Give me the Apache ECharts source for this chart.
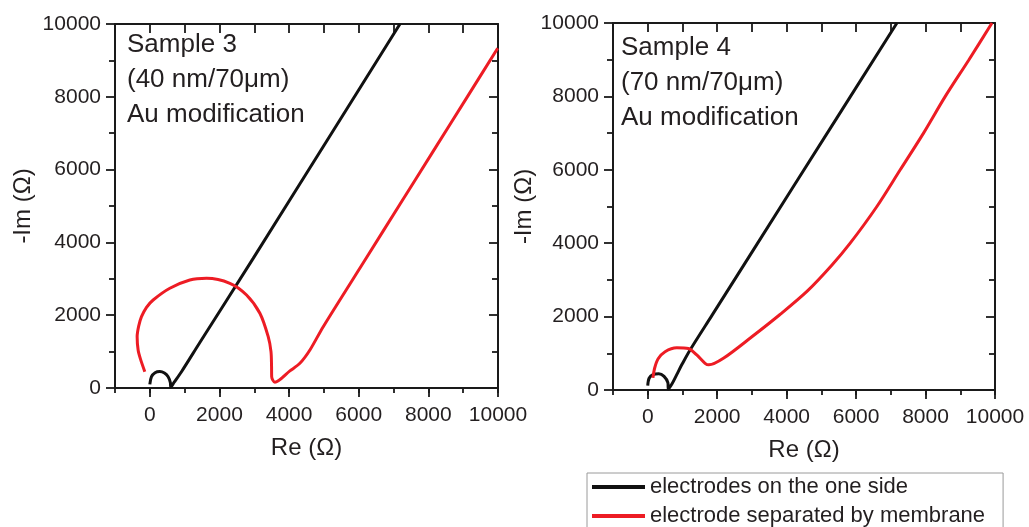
<!DOCTYPE html>
<html><head><meta charset="utf-8">
<script src="https://cdn.jsdelivr.net/npm/echarts@6/dist/echarts.min.js"></script>
<style>html,body{margin:0;padding:0;background:#fff}#c{width:1029px;height:527px}</style>
</head><body><div id="c"></div><script>
// Sample 3 (40 nm/70 µm), [Re, -Im] in ohm
const s3Black = [[0,100],[48,310],[150,420],[287,450],[420,410],[526,310],[590,150],[603,30],[700,160],[910,448],[1437,1250],[2969,3562],[5077,6781],[7184,10000]];
const s3Red = [[-144,448],[-270,800],[-336,1044],[-364,1410],[-320,1700],[-239,1959],[-95,2217],[96,2418],[575,2739],[1149,2967],[1628,3013],[2299,2876],[2778,2555],[3161,2052],[3400,1410],[3480,1000],[3496,600],[3500,310],[3592,160],[4023,470],[4310,678],[4598,1044],[4981,1685],[6226,3585],[7184,5047],[8141,6508],[9100,7971],[9991,9332]];
// Sample 4 (70 nm/70 µm)
const s4Black = [[0,120],[40,320],[150,420],[320,445],[470,370],[580,200],[594,30],[700,170],[836,420],[1000,720],[1219,1090],[1850,2034],[4200,5550],[7176,10000]];
const s4Red = [[150,330],[200,600],[300,850],[499,1044],[836,1150],[1170,1130],[1412,954],[1651,727],[1760,685],[2179,863],[3000,1450],[3800,2050],[4600,2700],[5300,3400],[5830,4000],[6599,5000],[7271,6000],[7942,7000],[8568,8000],[9250,9000],[9913,10000]];

const xMajor = [0,2000,4000,6000,8000,10000];
const seriesNames = ['electrodes on the one side','electrode separated by membrane'];
const panelLabels = ['Sample 3\n(40 nm/70\u03bcm)\nAu modification','Sample 4\n(70 nm/70\u03bcm)\nAu modification'];
const xName = 'Re (\u03a9)';
const yName = '-Im (\u03a9)';

const FONT = 'Liberation Sans, Arial, sans-serif';
const TXT = '#231f20';
const AX = '#1a1a1a';
const BLACK = '#111111';
const RED = '#ed1c24';
const plain = v => String(v);

const grids = [
  {left:115, top:24, width:383, height:364},
  {left:115, top:24, width:383, height:364},
  {left:613, top:23, width:382, height:367},
  {left:613, top:23, width:382, height:367}
];

function mainX(gi){
  return {gridIndex:gi, type:'value', position:'bottom', min:-1000, max:10000,
    axisLine:{show:true, onZero:false, lineStyle:{color:AX, width:2}},
    axisTick:{show:true, customValues:xMajor, length:9, lineStyle:{color:AX, width:1.8}},
    axisLabel:{show:true, customValues:xMajor, formatter:plain, fontSize:21, margin:17, color:TXT, fontFamily:FONT},
    splitLine:{show:false},
    name:xName, nameLocation:'middle', nameGap:48, nameTextStyle:{fontSize:24, color:TXT, fontFamily:FONT}};
}
function topX(gi){
  return {gridIndex:gi, type:'value', position:'top', min:-1000, max:10000, interval:1000,
    axisLine:{show:true, onZero:false, lineStyle:{color:AX, width:2}},
    axisTick:{show:true, inside:true, length:9, lineStyle:{color:AX, width:1.8}},
    axisLabel:{show:false}, splitLine:{show:false}};
}
function minorX(gi){
  return {gridIndex:gi, type:'value', position:'bottom', min:-1000, max:10000, interval:1000,
    axisLine:{show:false, onZero:false},
    axisTick:{show:true, length:5, lineStyle:{color:AX, width:1.8}},
    axisLabel:{show:false}, splitLine:{show:false}};
}
function leftY(gi, gap){
  return {gridIndex:gi, type:'value', position:'left', min:0, max:10000, interval:2000,
    axisLine:{show:true, onZero:false, lineStyle:{color:AX, width:2}},
    axisTick:{show:true, length:9, lineStyle:{color:AX, width:1.8}},
    minorTick:{show:true, splitNumber:2, length:6, lineStyle:{color:AX, width:1.8}},
    axisLabel:{formatter:plain, fontSize:21, margin:14, color:TXT, fontFamily:FONT},
    splitLine:{show:false}, minorSplitLine:{show:false},
    name:yName, nameLocation:'middle', nameGap:gap, nameTextStyle:{fontSize:24, color:TXT, fontFamily:FONT}};
}
function rightY(gi){
  return {gridIndex:gi, type:'value', position:'right', min:0, max:10000, interval:2000,
    axisLine:{show:true, onZero:false, lineStyle:{color:AX, width:2}},
    axisTick:{show:true, inside:true, length:9, lineStyle:{color:AX, width:1.8}},
    minorTick:{show:true, splitNumber:2, length:6, lineStyle:{color:AX, width:1.8}},
    axisLabel:{show:false}, splitLine:{show:false}, minorSplitLine:{show:false}};
}
function hiddenY(gi){
  return {gridIndex:gi, type:'value', min:0, max:10000, show:false, splitLine:{show:false}};
}

const xAxis = [mainX(0), topX(0), minorX(1), mainX(2), topX(2), minorX(3)];
const yAxis = [leftY(0, 80), rightY(0), hiddenY(1), leftY(2, 52), rightY(2), hiddenY(3)];

function line(name, data, color, xi, yi){
  return {type:'line', name:name, data:data, xAxisIndex:xi, yAxisIndex:yi,
    symbol:'none', showSymbol:false, smooth:0.3, lineStyle:{color:color, width:3}, itemStyle:{color:color},
    clip:true, animation:false, z:3};
}

const option = {
  animation:false,
  backgroundColor:'#ffffff',
  textStyle:{fontFamily:FONT},
  grid:grids,
  xAxis:xAxis,
  yAxis:yAxis,
  title:[
    {text:panelLabels[0], left:127, top:27, textStyle:{fontSize:26, lineHeight:35, fontWeight:'normal', color:TXT, fontFamily:FONT}, padding:0},
    {text:panelLabels[1], left:621, top:30, textStyle:{fontSize:26, lineHeight:35, fontWeight:'normal', color:TXT, fontFamily:FONT}, padding:0}
  ],
  legend:{
    orient:'vertical', left:587, top:473, height:90,
    data:[{name:seriesNames[0], icon:'rect'},{name:seriesNames[1], icon:'rect'}],
    itemWidth:53, itemHeight:4, itemGap:7,
    padding:[3,18,14,5],
    borderColor:'#9a9a9a', borderWidth:1,
    textStyle:{fontSize:22, color:TXT, fontFamily:FONT, lineHeight:22},
    selectedMode:false
  },
  series:[
    line(seriesNames[0], s3Black, BLACK, 0, 0),
    line(seriesNames[1], s3Red, RED, 0, 0),
    line(seriesNames[0], s4Black, BLACK, 3, 3),
    line(seriesNames[1], s4Red, RED, 3, 3)
  ]
};
const chart = echarts.init(document.getElementById('c'), null, {renderer:'canvas'});
chart.setOption(option);
</script></body></html>
